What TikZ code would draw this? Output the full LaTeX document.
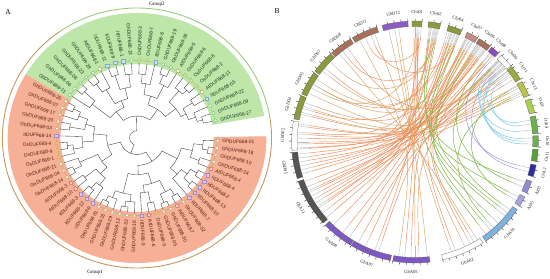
\documentclass[tikz,border=0pt]{standalone}
\usepackage{fontspec}
\setmainfont{Liberation Serif}
\newfontfamily\labfont{Liberation Sans}
\usetikzlibrary{shapes.geometric}
\definecolor{bandO}{HTML}{F5B095}
\definecolor{bandG}{HTML}{BEE6A8}
\definecolor{ringO}{HTML}{C29A60}
\definecolor{ringG}{HTML}{9CCB7A}
\definecolor{lineO}{HTML}{BDB27A}
\definecolor{lineG}{HTML}{9ED487}
\definecolor{txO}{HTML}{5A1E14}
\definecolor{txG}{HTML}{1E321E}
\definecolor{ghO}{HTML}{B8A868}
\definecolor{itO}{HTML}{DCCBEF}
\definecolor{itOd}{HTML}{A58BC9}
\definecolor{osO}{HTML}{F2D27A}
\definecolor{osOd}{HTML}{D0A840}
\definecolor{atO}{HTML}{F8D8D0}
\definecolor{atOd}{HTML}{D04040}
\definecolor{ghG}{HTML}{6DB36D}
\definecolor{itG}{HTML}{CFE3F7}
\definecolor{itGd}{HTML}{7FA8D6}
\definecolor{osG}{HTML}{E8E6A0}
\definecolor{osGd}{HTML}{B8B060}
\definecolor{atGd}{HTML}{B09040}
\definecolor{linkO}{HTML}{EF8A55}
\definecolor{linkT}{HTML}{D7A564}
\definecolor{linkG}{HTML}{7DB742}
\definecolor{linkB}{HTML}{7CCBEA}
\definecolor{linkP}{HTML}{9A8AD8}
\definecolor{cPurple}{HTML}{8B5CC4}
\definecolor{cPurpleA}{HTML}{7E58C2}
\definecolor{cOlive}{HTML}{8C9A3C}
\definecolor{cPink}{HTML}{C98A84}
\definecolor{cBrown}{HTML}{A8705A}
\definecolor{cPurple2}{HTML}{8E4DB8}
\definecolor{cOlive2}{HTML}{9AAA3E}
\definecolor{cYel}{HTML}{B9C345}
\definecolor{cLime}{HTML}{A7D14C}
\definecolor{cGreen}{HTML}{6DB04E}
\definecolor{cGreen2}{HTML}{5A9E3C}
\definecolor{cNavy}{HTML}{2E2E9E}
\definecolor{cLav}{HTML}{8D8DD6}
\definecolor{cLav2}{HTML}{A4A4E0}
\definecolor{cLBlue}{HTML}{7FB2DC}
\definecolor{cGray}{HTML}{555555}
\tikzset{
 tree/.style={draw=black!78,line width=0.35pt},
 lab/.style={font=\labfont\fontsize{4.9}{5}\selectfont,inner sep=0pt},
 mk/.style={inner sep=0pt,line width=0.35pt},
 oGh/.style={mk,circle,minimum size=3.4pt,draw=ghO,fill=white},
 oIt/.style={mk,rectangle,minimum size=3.4pt,draw=itOd,fill=itO},
 oOs/.style={mk,regular polygon,regular polygon sides=3,minimum size=4.2pt,draw=osOd,fill=osO},
 oAt/.style={mk,star,star points=5,minimum size=4.4pt,draw=atOd,fill=atO},
 gGh/.style={mk,circle,minimum size=3.4pt,draw=ghG,fill=white},
 gIt/.style={mk,rectangle,minimum size=3.4pt,draw=itGd,fill=itG},
 gOs/.style={mk,regular polygon,regular polygon sides=3,minimum size=4.2pt,draw=osGd,fill=osG},
 gAt/.style={mk,star,star points=5,minimum size=4.4pt,draw=atGd,fill=white},
 chrlab/.style={font=\fontsize{4.6}{5}\selectfont,inner sep=0pt,text=black!85},
 tickmark/.style={draw=black!85,line width=0.35pt},
 stub/.style={draw=black!28,line width=0.35pt},
 lkO/.style={draw=linkO,line width=0.45pt},
 lkT/.style={draw=linkT,line width=0.45pt},
 lkG/.style={draw=linkG,line width=0.5pt},
 lkB/.style={draw=linkB,line width=0.5pt},
 lkP/.style={draw=linkP,line width=0.45pt},
 panel/.style={font=\fontsize{7.5}{8}\selectfont,inner sep=0pt},
 grp/.style={font=\fontsize{5}{6}\selectfont,inner sep=0pt}
}
\newcommand\cl[5]{\draw[tree] (#2:#3) -- (#2:#1) arc[start angle=#2,end angle=#4,radius=#1] -- (#4:#5);}
\newcommand\sector[5]{\fill[#5] (#1:#3) arc[start angle=#1,end angle=#2,radius=#3] -- (#2:#4) arc[start angle=#2,end angle=#1,radius=#4] -- cycle;}
\newcommand\chrom[5]{%
 \filldraw[fill=#3,draw=#4,line width=0.3pt] (#1:115.5) arc[start angle=#1,end angle=#2,radius=115.5] -- (#2:121) arc[start angle=#2,end angle=#1,radius=121] -- cycle;
 \pgfmathsetmacro\tnext{#1+3.2}
 \foreach \t in {#1,\tnext,...,#2} \draw[tickmark] (\t:121) -- (\t:123.5);
 \pgfmathsetmacro\cmid{(#1+#2)/2}
 \pgfmathsetmacro\crot{ifthenelse(or(\cmid<0,\cmid>180),\cmid+90,\cmid-90)}
 \node[chrlab,rotate=\crot] (#5) at (\cmid:130) {#5};
}
\newcommand\lk[3]{%
 \pgfmathsetmacro\dd{abs(#3-#2)}
 \pgfmathsetmacro\dd{min(\dd,360-\dd)}
 \pgfmathsetmacro\cc{104*max(0.06,1-\dd/115)}
 \draw[#1] (#2:104) .. controls (#2:\cc) and (#3:\cc) .. (#3:104);
 \draw[stub] (#2:104) -- (#2:115);
 \draw[stub] (#3:104) -- (#3:115);
}
\begin{document}
\begin{tikzpicture}[x=1pt,y=1pt]
\useasboundingbox (0,0) rectangle (550,279);
\fill[white] (0,0) rectangle (550,279);
\node[panel] (pA) at (8,267) {A};
\node[panel] (pB) at (277,268) {B};
% ================= Panel A =================
\begin{scope}[shift={(137,141)},xscale=1.035]
 \sector{149.2}{360.8}{74}{125}{bandO}
 \sector{10.2}{149.2}{74}{125}{bandG}
 \draw[lineO,line width=0.6pt] (149.2:77.5) arc[start angle=149.2,end angle=360.8,radius=77.5];
 \draw[lineG,line width=0.6pt] (10.2:77.5) arc[start angle=10.2,end angle=149.2,radius=77.5];
 \draw[ringG,line width=0.9pt] (8:130) arc[start angle=8,end angle=125,radius=130];
 \draw[ringO,line width=0.9pt] (125:130) arc[start angle=125,end angle=368,radius=130];
 \begin{scope}[scale=0.915]
 % green group
 \cl{72}{13.0}{82}{18.8}{82}
 \cl{66}{15.9}{72}{24.6}{82}
 \cl{70}{30.4}{82}{36.2}{82}
 \cl{58}{20.25}{66}{33.3}{70}
 \cl{74}{42.0}{82}{47.8}{82}
 \cl{68}{44.9}{74}{53.6}{82}
 \cl{52}{26.78}{58}{49.25}{68}
 \cl{74}{65.2}{82}{71.0}{82}
 \cl{64}{59.4}{82}{68.1}{74}
 \cl{70}{82.6}{82}{88.4}{82}
 \cl{60}{76.8}{82}{85.5}{70}
 \cl{48}{63.75}{64}{81.15}{60}
 \cl{38}{38.0}{52}{72.45}{48}
 \cl{70}{94.2}{82}{100.0}{82}
 \cl{72}{105.8}{82}{111.6}{82}
 \cl{56}{97.1}{70}{108.7}{72}
 \cl{73}{123.2}{82}{129.0}{82}
 \cl{62}{117.4}{82}{126.1}{73}
 \cl{44}{102.9}{56}{121.75}{62}
 \cl{75}{134.8}{82}{140.6}{82}
 \cl{60}{137.7}{75}{146.4}{82}
 \cl{36}{112.3}{44}{142.05}{60}
 \cl{24}{55.2}{38}{127.2}{36}
 % orange group
 \cl{74}{152.0}{82}{157.3}{82}
 \cl{66}{154.65}{74}{162.6}{82}
 \cl{72}{167.8}{82}{173.1}{82}
 \cl{56}{158.6}{66}{170.45}{72}
 \cl{74}{183.7}{82}{189.0}{82}
 \cl{68}{186.35}{74}{194.2}{82}
 \cl{58}{178.4}{82}{190.3}{68}
 \cl{46}{164.5}{56}{184.35}{58}
 \cl{75}{204.8}{82}{210.1}{82}
 \cl{66}{199.5}{82}{207.45}{75}
 \cl{70}{215.4}{82}{220.6}{82}
 \cl{73}{225.9}{82}{231.2}{82}
 \cl{65}{228.55}{73}{236.5}{82}
 \cl{55}{218.0}{70}{232.5}{65}
 \cl{45}{203.5}{66}{225.25}{55}
 \cl{32}{174.4}{46}{214.4}{45}
 \cl{76}{241.8}{82}{247.0}{82}
 \cl{70}{244.4}{76}{252.3}{82}
 \cl{76}{257.6}{82}{262.9}{82}
 \cl{70}{260.25}{76}{268.2}{82}
 \cl{62}{248.35}{70}{264.2}{70}
 \cl{72}{278.7}{82}{284.0}{82}
 \cl{60}{273.4}{82}{281.35}{72}
 \cl{76}{289.3}{82}{294.6}{82}
 \cl{74}{299.8}{82}{305.1}{82}
 \cl{66}{291.95}{76}{302.45}{74}
 \cl{52}{277.4}{60}{297.2}{66}
 \cl{40}{256.3}{62}{287.3}{52}
 \cl{75}{315.7}{82}{321.0}{82}
 \cl{74}{326.2}{82}{331.5}{82}
 \cl{66}{318.35}{75}{328.85}{74}
 \cl{58}{310.4}{82}{323.6}{66}
 \cl{70}{336.8}{82}{342.1}{82}
 \cl{76}{347.4}{82}{352.6}{82}
 \cl{70}{350.0}{76}{357.9}{82}
 \cl{60}{339.45}{70}{353.95}{70}
 \cl{48}{317.0}{58}{346.7}{60}
 \cl{30}{271.8}{40}{331.85}{48}
 \cl{18}{194.4}{32}{301.8}{30}
 \cl{8}{91.2}{24}{248.1}{18}
 \end{scope}
 \foreach \a/\n/\m [count=\i] in {13.0/GhDUF668-27/gGh,18.8/GhDUF668-09/gGh,24.6/GhDUF668-22/gGh,30.4/ItDUF668-05/gIt,36.2/AtDUF668-11/gAt,42.0/OsDUF668-2/gOs,47.8/OsDUF668-8/gOs,53.6/OsDUF668-6/gOs,59.4/AtDUF668-5/gAt,65.2/GhDUF668-26/gGh,71.0/GhDUF668-19/gGh,76.8/ItDUF668-6/gIt,82.6/OsDUF668-7/gOs,88.4/OsDUF668-3/gOs,94.2/GhDUF668-13/gGh,100.0/ItDUF668-1/gIt,105.8/ItDUF668-8/gIt,111.6/ItDUF668-11/gIt,117.4/AtDUF668-1/gAt,123.2/GhDUF668-28/gGh,129.0/GhDUF668-23/gGh,134.8/GhDUF668-08/gGh,140.6/GhDUF668-06/gGh,146.4/GhDUF668-11/gGh}{
  \node[\m] (gM\i) at (\a:78) {};
  \pgfmathtruncatemacro\lft{and(\a>90,\a<270)}
  \pgfmathsetmacro\rot{ifthenelse(\lft,\a-180,\a)}
  \ifnum\lft=1
   \node[lab,text=txG,anchor=east,rotate=\rot] (gL\i) at (\a:82.5) {\n};
  \else
   \node[lab,text=txG,anchor=west,rotate=\rot] (gL\i) at (\a:82.5) {\n};
  \fi
 }
 \foreach \a/\n/\m [count=\i] in {152.0/GhDUF668-25/oGh,157.3/GhDUF668-07/oGh,162.6/GhDUF668-17/oGh,167.8/GhDUF668-20/oGh,173.1/GhDUF668-03/oGh,178.4/ItDUF668-14/oIt,183.7/OsDUF668-4/oOs,189.0/OsDUF668-9/oOs,194.2/OsDUF668-1/oOs,199.5/GhDUF668-21/oGh,204.8/GhDUF668-04/oGh,210.1/GhDUF668-14/oGh,215.4/AtDUF668-3/oAt,220.6/AtDUF668-10/oAt,225.9/ItDUF668-3/oIt,231.2/ItDUF668-12/oIt,236.5/ItDUF668-9/oIt,241.8/GhDUF668-31/oGh,247.0/GhDUF668-15/oGh,252.3/GhDUF668-29/oGh,257.6/GhDUF668-12/oGh,262.9/GhDUF668-32/oGh,268.2/GhDUF668-16/oGh,273.4/ItDUF668-5/oIt,278.7/AtDUF668-6/oAt,284.0/OsDUF668-5/oOs,289.3/GhDUF668-05/oGh,294.6/GhDUF668-30/oGh,299.8/AtDUF668-7/oAt,305.1/GhDUF668-02/oGh,310.4/ItDUF668-7/oIt,315.7/ItDUF668-10/oIt,321.0/ItDUF668-13/oIt,326.2/ItDUF668-2/oIt,331.5/ItDUF668-4/oIt,336.8/AtDUF668-4/oAt,342.1/GhDUF668-24/oGh,347.4/GhDUF668-10/oGh,352.6/GhDUF668-18/oGh,357.9/GhDUF668-01/oGh}{
  \node[\m] (oM\i) at (\a:78) {};
  \pgfmathtruncatemacro\lft{and(\a>90,\a<270)}
  \pgfmathsetmacro\rot{ifthenelse(\lft,\a-180,\a)}
  \ifnum\lft=1
   \node[lab,text=txO,anchor=east,rotate=\rot] (oL\i) at (\a:82.5) {\n};
  \else
   \node[lab,text=txO,anchor=west,rotate=\rot] (oL\i) at (\a:82.5) {\n};
  \fi
 }
\end{scope}
\node[grp] (g2) at (157,274.5) {Group2};
\node[grp] (g1) at (95,7) {Group1};
% ================= Panel B =================
\begin{scope}[shift={(415,137)},xscale=1.02]
 \foreach \a/\b in {90.5/226,89.5/250,88/265,89/188,82/175,80.5/205,83/215,73/178,70/192,71.5/210,68.5/232,72/245,63.5/180,62/200,60.5/218,64/268,56.5/183,55/196,58/212,53.5/236,50/186,48.5/221,44/176,42/203,43/252,37/190,35/214,26/181,24/208,61/290,57/298,49/300,68/160,74/150,53/140,79/128,40/125,87/115,69/112,28/171,33/272,38/241,81/163,58.3/166,45/172,54/194,64.5/206,78.5/183.5}{\lk{lkO}{\a}{\b}}
 \foreach \a/\b in {100/270,98/288,103/276,110/295,118/262,130/302,142/56,150/64,155/44.5,162/38,165/29.5,152/90,136/80,147/72}{\lk{lkT}{\a}{\b}}
 \foreach \a/\b in {47.5/-13,41/-15}{\lk{lkP}{\a}{\b}}
 \foreach \a/\b in {82.5/-20.5,79.5/-28.5,70.5/-45,67.9/-40,50.5/-23,44.5/-36,57.5/-50,29/-30.5,88.5/-53,62.5/-38,25/-48}{\lk{lkG}{\a}{\b}}
 \foreach \a/\b in {42.5/2,38/-1,45.2/6,36/9,40.5/11,39.5/0.5}{\lk{lkB}{\a}{\b}}
 \chrom{93.3}{105.5}{cPurple}{black!60}{GhD12}
 \chrom{86.7}{91.4}{cOlive}{black!60}{Chr01}
 \chrom{78}{83.7}{cOlive}{black!60}{Chr02}
 \chrom{67.7}{74.3}{cOlive}{black!60}{Chr04}
 \chrom{59.5}{65}{cPink}{black!60}{Chr07}
 \chrom{52.5}{58.7}{cBrown}{black!60}{Chr06}
 \chrom{47.4}{51.6}{cPurple2}{black!60}{Chr08}
 \chrom{39}{45.7}{white}{black!55}{Chr09}
 \chrom{31.3}{38.5}{cOlive2}{black!60}{Chr11}
 \chrom{22.6}{30}{cYel}{black!60}{Chr13}
 \chrom{14}{20.9}{cLime}{black!60}{Os01}
 \chrom{4}{12.5}{cGreen}{black!60}{Os04}
 \chrom{-2.4}{3}{cGreen}{black!60}{Os10}
 \chrom{-9.3}{-3.5}{cGreen2}{black!60}{Os11}
 \chrom{-16.7}{-11}{cNavy}{black!60}{Os12}
 \chrom{-25}{-19}{cLav}{black!60}{At03}
 \chrom{-32}{-27}{cLav2}{black!60}{At05}
 \chrom{-55}{-34}{cLBlue}{black!60}{GhA01}
 \chrom{-77}{-56.5}{white}{black!55}{GhA02}
 \chrom{259.6}{277}{cPurpleA}{black!60}{GhA05}
 \chrom{238.9}{258.5}{cPurpleA}{black!60}{GhA07}
 \chrom{223.4}{238.5}{cPurpleA}{black!60}{GhA09}
 \chrom{199}{222}{cGray}{black!70}{GhA11}
 \chrom{185}{197.6}{cGray}{black!70}{GhD01}
 \chrom{170}{184}{white}{black!55}{GhD02}
 \chrom{157.4}{169}{cOlive}{black!60}{GhD04}
 \chrom{145}{156.6}{cOlive}{black!60}{GhD05}
 \chrom{133}{144.2}{cOlive}{black!60}{GhD07}
 \chrom{121.5}{132.5}{cBrown}{black!60}{GhD08}
 \chrom{108}{120.5}{cBrown}{black!60}{GhD11}
\end{scope}
\end{tikzpicture}
\end{document}
